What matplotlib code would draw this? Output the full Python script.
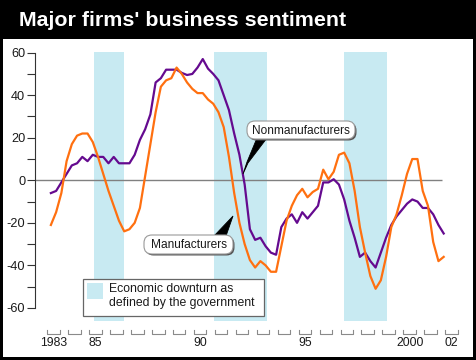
import numpy as np
import matplotlib
matplotlib.use('Agg')
import matplotlib.pyplot as plt
from matplotlib.patches import Rectangle, FancyBboxPatch, Polygon
from matplotlib.transforms import Affine2D

W, H, DPI = 476, 360, 100

# quarterly survey points, Feb 1983 .. Feb 2002
quarters = 1983.375 + 0.25 * np.arange(76)

nonmanufacturers = [
    -6, -5, -1, 3, 7, 8, 11, 9, 12, 11,
    11, 8, 11, 8, 8, 8, 12, 19, 24, 31,
    46, 48, 52, 52, 52, 50.5, 49.5, 50, 53, 57,
    52.5, 50, 47, 40, 33, 22, 12, -2, -23, -28,
    -27, -31, -34, -35, -22, -18, -16, -20, -15, -18,
    -15, -12, -1, -1, 0.5, -2, -9, -19, -27, -36,
    -34, -38, -41, -34, -27, -21, -17, -14, -11, -9,
    -10, -13, -13, -16, -21, -25,
]
manufacturers = [
    -21, -15, -6, 9, 17, 21, 22, 22, 18, 11,
    3, -5, -12, -19, -24, -23, -20, -13, 2, 17,
    32, 44, 47, 48, 53, 50, 46, 43, 41, 41,
    38, 36, 32, 25, 11, -6, -20, -30, -37.5, -41,
    -38, -40, -43, -43, -31, -19, -12, -7, -4, -8,
    -5.5, -4, 5, 0.5, 4, 12, 13, 8, -5, -22,
    -34, -45, -51, -47, -36, -22, -16, -7, 3, 10,
    10, -5, -12, -29, -38, -36,
]

downturns = [(1985.45, 1986.85), (1991.15, 1993.7), (1997.35, 1999.4)]
years = list(range(1983, 2003))
year_labels = {1983: '1983', 1985: '85', 1990: '90', 1995: '95', 2000: '2000', 2002: '02'}
y_major = [-60, -40, -20, 0, 20, 40, 60]
y_minor = [-50, -30, -10, 10, 30, 50]

PURPLE = '#650a8f'
ORANGE = '#ff7010'
BAND = '#c8eaf2'
TEXT = '#1a1a1a'
FONT = ['Liberation Sans', 'DejaVu Sans']

plt.rcParams['font.family'] = FONT
plt.rcParams['axes.unicode_minus'] = False

fig = plt.figure(figsize=(W / DPI, H / DPI), dpi=DPI, facecolor='black')
# pixel coordinates with origin at top-left
pix = Affine2D().scale(1, -1).translate(0, H).scale(1 / DPI) + fig.dpi_scale_trans

fig.add_artist(Rectangle((3, 39), 470, 318, transform=pix, facecolor='white',
                         edgecolor='none', zorder=-1))
fig.text(19, 20, "Major firms' business sentiment", transform=pix, color='white',
         fontsize=15.4, fontweight='bold', va='center', ha='left')

ax = fig.add_axes([35 / W, 10 / H, 435 / W, 305 / H])
ax.set_facecolor('none')
ax.set_xlim(1982.617, 2003.381)
ax.set_ylim(-79.78, 63.61)

for s, e in downturns:
    ax.fill_between([s, e], -66.3, 60.3, color=BAND, lw=0, zorder=1)

ax.hlines(0, 1982.617, 2002.05, color='#808080', lw=1, zorder=2)
ax.plot(quarters, nonmanufacturers, color=PURPLE, lw=1.6, zorder=3)
ax.plot(quarters, manufacturers, color=ORANGE, lw=1.6, zorder=4)

# y axis
for side in ['top', 'right', 'bottom']:
    ax.spines[side].set_visible(False)
ax.spines['left'].set_bounds(-60, 60)
ax.spines['left'].set_color('#333333')
ax.set_yticks(y_major)
ax.set_yticks(y_minor, minor=True)
ax.set_yticklabels([str(v) for v in y_major])
ax.tick_params(axis='y', which='both', length=6, width=0.8, color='#333333',
               pad=1, labelsize=9.2, labelcolor=TEXT)
ax.set_xticks([])

# year brackets on the x axis
for y in years:
    ax.plot([y + 0.2, y + 0.2, y + 0.8, y + 0.8], [-70.6, -72.4, -72.4, -70.6],
            color='#8a8a8a', lw=0.8, clip_on=False)
    if y in year_labels:
        ax.text(y + 0.5, -76.6, year_labels[y], ha='center', va='center',
                fontsize=8.8, color=TEXT)

# legend box
fig.add_artist(Rectangle((82.7, 279.3), 181.3, 36.7, transform=pix, facecolor='white',
                         edgecolor='#666666', lw=0.9, zorder=5))
fig.add_artist(Rectangle((87.3, 282.7), 16, 16.6, transform=pix, facecolor=BAND,
                         edgecolor='none', zorder=6))
fig.text(109, 289.5, 'Economic downturn as', transform=pix, fontsize=8.8,
         color=TEXT, va='center', ha='left', zorder=6)
fig.text(109, 302.7, 'defined by the government', transform=pix, fontsize=8.8,
         color=TEXT, va='center', ha='left', zorder=6)


def callout(x0, y0, w, h, label, wedge):
    fig.add_artist(Polygon(wedge, closed=True, transform=pix, facecolor='black',
                           edgecolor='black', lw=0.6, zorder=6))
    fig.add_artist(FancyBboxPatch((x0 + 1.5, y0 + 1.5), w, h, transform=pix,
                                  boxstyle='round,pad=0,rounding_size=8',
                                  facecolor='#555555', edgecolor='none', zorder=7))
    fig.add_artist(FancyBboxPatch((x0, y0), w, h, transform=pix,
                                  boxstyle='round,pad=0,rounding_size=8',
                                  facecolor='white', edgecolor='#999999', lw=0.8, zorder=8))
    fig.text(x0 + w / 2, y0 + h / 2 + 0.5, label, transform=pix, fontsize=8.6,
             color=TEXT, ha='center', va='center', zorder=9)


callout(247, 121, 108, 18, 'Nonmanufacturers',
        [(257, 138), (267, 138), (248, 163), (243, 174), (247, 162)])
callout(144, 235, 89, 19, 'Manufacturers',
        [(214, 236), (226, 236), (233, 216)])

fig.savefig('out.png', dpi=DPI, facecolor='black')
